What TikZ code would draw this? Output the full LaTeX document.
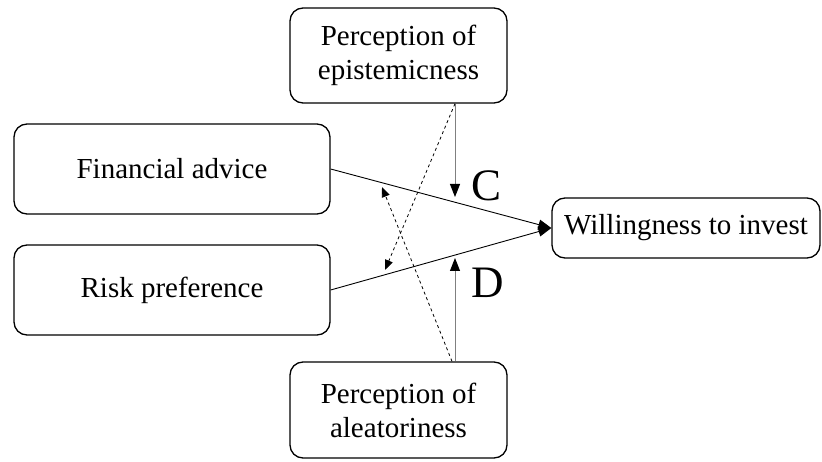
\documentclass[tikz,border=0pt]{standalone}
\usepackage{fontspec}
\setmainfont{Liberation Serif}
\usetikzlibrary{arrows.meta}

\begin{document}
\begin{tikzpicture}[x=1pt,y=-1pt,
      every node/.style={font=\fontsize{29}{34}\selectfont,align=center},
      factor/.style={draw,line width=1.3pt,rounded corners=13pt,inner sep=0pt},
      arrow/.style={-{Triangle[length=13pt,width=10pt]},line width=0.9pt},
      modarrow/.style={-{Triangle[length=13pt,width=10pt,color=black]},line width=0.9pt,draw=gray},
      dasharrow/.style={-{Triangle[length=10pt,width=8pt]},dashed,line width=0.8pt},
      letter/.style={font=\fontsize{45}{50}\selectfont}]
      \useasboundingbox (0,0) rectangle (822,462);
      \node[factor,minimum width=217pt,minimum height=95pt] (epist) at (398.5,55.5) {Perception of\\epistemicness};
      \node[factor,minimum width=316pt,minimum height=90pt] (advice) at (172,169) {Financial advice};
      \node[factor,minimum width=316pt,minimum height=90pt] (risk) at (172,290) {Risk preference};
      \node[factor,minimum width=268pt,minimum height=60pt] (invest) at (686,228) {Willingness to invest};
      \node[factor,minimum width=217pt,minimum height=96pt] (aleat) at (398.5,410) {Perception of\\aleatoriness};
      \coordinate (cend) at (455,197);
      \coordinate (dend) at (455,258);
      \coordinate (riskhit) at (385,270);
      \coordinate (advicehit) at (382,187);
      \node[letter] (clabel) at (487,186) {C};
      \node[letter] (dlabel) at (488,283) {D};
      \draw[arrow] (advice.east)--(invest.west);
      \draw[arrow] (risk.east)--(invest.west);
      \draw[modarrow] (cend |- epist.south)--(cend);
      \draw[modarrow] (dend |- aleat.north)--(dend);
      \draw[dasharrow] (cend |- epist.south)--(riskhit);
      \draw[dasharrow] ([xshift=-3pt]dend |- aleat.north)--(advicehit);
    \end{tikzpicture}
\end{document}
